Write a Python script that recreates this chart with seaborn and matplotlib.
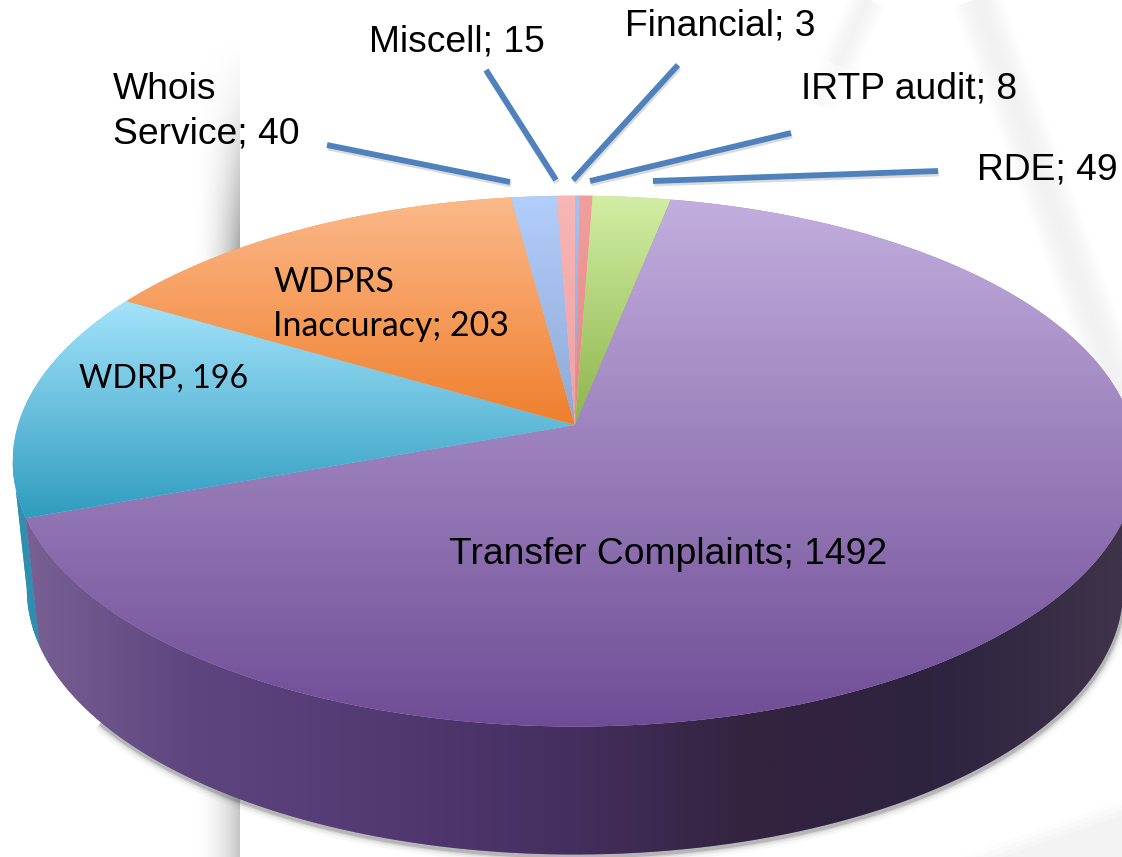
import numpy as np
import matplotlib
matplotlib.use("Agg")
import matplotlib.pyplot as plt
from matplotlib.colors import to_rgb
from matplotlib.path import Path
from matplotlib.patches import PathPatch
import seaborn as sns

# ---- data (clockwise from 12 o'clock) ----
categories = ["Financial", "IRTP audit", "RDE", "Transfer Complaints", "WDRP",
              "WDPRS Inaccuracy", "Whois Service", "Miscell"]
values = [3, 8, 49, 1492, 196, 203, 40, 15]

top_colors = ["#a6c2ee", "#f39e9e", "#d2eea4", "#c2aede", "#a4e3fb", "#fcb98a", "#b2cefa", "#f8b6b6"]
low_colors = ["#8ca6d8", "#e28484", "#8db44c", "#6f4d96", "#2f9cbf", "#ef7f2d", "#8fa8d6", "#ee9f9f"]
wall_stops = {
    4: ["#2e8fae", "#2e8fae"],
    3: ["#7c6497", "#5f4580", "#533a73", "#452f60", "#33233f", "#2e2340", "#3e3349"],
}

ARIAL, CALIBRI = "Liberation Sans", "Lato"
label_texts = [
    ("Whois\nService; 40", 113, 112, ARIAL, 26.8, 1.34),
    ("Miscell; 15", 369, 42, ARIAL, 26.8, 1.2),
    ("Financial; 3", 625, 26, ARIAL, 26.8, 1.2),
    ("IRTP audit; 8", 801, 89, ARIAL, 26.8, 1.2),
    ("RDE; 49", 977, 170, ARIAL, 26.8, 1.2),
    ("WDPRS\nInaccuracy; 203", 273, 304, CALIBRI, 24.4, 1.45),
    ("WDRP, 196", 79, 379, CALIBRI, 23.2, 1.2),
    ("Transfer Complaints; 1492", 449, 554, ARIAL, 26.8, 1.2),
]
leader_x = [(327, 510), (486, 556), (678, 573), (791, 590), (938, 653)]
leader_y = [(145, 182), (70, 180), (65, 180), (133, 181), (171, 181)]

# ---- projection of the flat pie on the tilted disc ----
APEX_X, APEX_Y = 575, 425
K_X, K_Y, TILT = 557.0, 260.5, 0.136
DEPTH, LOWER_SCALE = 128, 0.975
TRUE_ANGLE = [0, 11, 279, 314, 350, 357, 360]      # perspective foreshortening of the sweep
SEEN_ANGLE = [0, 11.5, 250.5, 301, 352.4, 357.6, 360]


def project(phi_deg, lower=False):
    t = np.mod(90 - np.asarray(phi_deg, float), 360)
    t = np.deg2rad(np.interp(t, TRUE_ANGLE, SEEN_ANGLE))
    x, y = np.sin(t), np.cos(t)
    w = 1 + TILT * y
    sx = K_X * x / w
    sy = -K_Y * y / w
    if lower:
        return APEX_X + LOWER_SCALE * sx, APEX_Y + sy + DEPTH
    return APEX_X + sx, APEX_Y + sy


sns.set_theme(style="white")
fig = plt.figure(figsize=(11.22, 8.57), dpi=100, facecolor="white")
ax = fig.add_axes([0, 0, 1, 1])
wedges, _ = ax.pie(values, startangle=90, counterclock=False, colors=low_colors,
                   wedgeprops=dict(linewidth=0))
ax.set_aspect("auto")
ax.set_xlim(0, 1122)
ax.set_ylim(857, 0)
ax.axis("off")


def gradient(cols, extent, horizontal=False, clip=None, z=2):
    cmap = sns.blend_palette(cols, as_cmap=True)
    g = cmap(np.linspace(0, 1, 512))[:, :3]
    arr = g[None, :, :] if horizontal else g[:, None, :]
    im = ax.imshow(arr, extent=extent, aspect="auto", origin="upper", zorder=z,
                   interpolation="bilinear")
    if clip is not None:
        im.set_clip_path(clip)
    return im


# ---- faint background artwork ----
rows = np.linspace(40, 857, 400)
band = np.ones((400, 120, 4))
band[..., :3] = 0.55
xf = np.clip(np.linspace(-1.4, 1, 120), 0, 1) ** 2.2
yf = np.interp(rows, [40, 100, 260, 700, 857], [0, 0.12, 0.8, 0.5, 0.5])
band[..., 3] = xf[None, :] * yf[:, None]
ax.imshow(band, extent=(120, 240, 857, 40), aspect="auto", zorder=0, interpolation="bilinear")
for lw in range(4, 38, 4):
    ax.plot((975, 1130), (-5, 420), color="#777777", lw=lw, alpha=0.009, zorder=0, solid_capstyle="butt")
for (xs, ys), f in [(((870, 838), (-5, 65)), 1.0), (((838, 818), (65, 105)), 0.6),
                    (((818, 803), (105, 135)), 0.3)]:
    for lw in range(3, 30, 4):
        ax.plot(xs, ys, color="#777777", lw=lw, alpha=0.006 * f, zorder=0, solid_capstyle="butt")
for dy in (0, 5, 10, 15):
    ax.fill((960, 1122, 1122), (857 + dy, 800 + dy, 857 + dy), color="#777777", alpha=0.02,
            lw=0, zorder=0)

# ---- soft shadow under the disc ----
sx, sy = project(np.linspace(-170, 10, 300), lower=True)
for lw, a in [(12, 0.03), (8, 0.05), (5, 0.08), (3, 0.15)]:
    ax.plot(sx + 0.5, sy + 2, color="black", lw=lw, alpha=a, zorder=1, solid_capstyle="butt")

# ---- outer walls: only the part facing the viewer ----
circle = np.linspace(0, 360, 3600)
tangent_top = project(circle)[1][np.argmin(project(circle)[0])]
tangent_low = project(circle, lower=True)[1][np.argmin(project(circle, lower=True)[0])]
for i in (4, 3):
    w = wedges[i]
    phi = np.linspace(w.theta1, w.theta2, 1200)
    tx, ty = project(phi)
    bx, by = project(phi, lower=True)
    keep_t, keep_b = ty >= tangent_top, by >= tangent_low
    verts = np.r_[np.c_[tx, ty][keep_t], np.c_[bx, by][keep_b][::-1]]
    zw = 2 + 0.1 * (4 - i)
    wall = PathPatch(Path(verts), facecolor=wall_stops[i][0], edgecolor="none", zorder=zw)
    ax.add_patch(wall)
    gradient(wall_stops[i], (0, 1122, 857, 0), horizontal=True, clip=wall, z=zw)

# ---- top faces, one gradient per slice ----
for i, w in enumerate(wedges):
    phi = np.linspace(w.theta1, w.theta2, max(int(w.theta2 - w.theta1) * 4, 8))
    ex, ey = project(phi)
    verts = np.r_[[[APEX_X, APEX_Y]], np.c_[ex, ey], [[APEX_X, APEX_Y]]]
    w._path = Path(verts, closed=True)
    w.set_zorder(3 + 0.01 * i)
    w.set_facecolor(tuple((np.array(to_rgb(top_colors[i])) + np.array(to_rgb(low_colors[i]))) / 2))
    gradient([top_colors[i], low_colors[i]],
             (verts[:, 0].min(), verts[:, 0].max(), verts[:, 1].max(), verts[:, 1].min()),
             clip=w, z=3 + 0.01 * i)

# ---- leader lines ----
for xs, ys in zip(leader_x, leader_y):
    ax.plot(np.add(xs, 1), np.add(ys, 2.5), color="black", lw=4.2, alpha=0.14, zorder=4,
            solid_capstyle="butt")
    ax.plot(xs, ys, color="#4f81bd", lw=4.2, zorder=5, solid_capstyle="butt")

# ---- labels ----
for txt, x, y, fam, size, spacing in label_texts:
    ax.text(x, y, txt, family=fam, fontsize=size, color="black", ha="left", va="center",
            linespacing=spacing, zorder=6)

ax.set_xlim(0, 1122)
ax.set_ylim(857, 0)
fig.savefig("out.png", dpi=100)
